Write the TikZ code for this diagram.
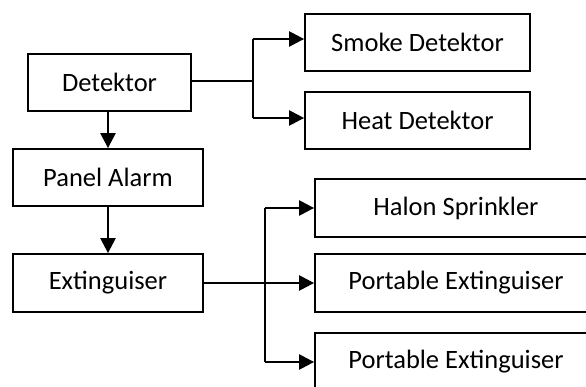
\documentclass[tikz,border=0pt]{standalone}
\usepackage{fontspec}
\setmainfont{Carlito}
\usetikzlibrary{arrows.meta}
\begin{document}
\begin{tikzpicture}[x=1pt,y=-1pt,
  box/.style={draw=black,line width=1.8pt,rectangle,inner sep=0pt,align=center,
    font=\fontsize{26.5}{30}\selectfont},
  conn/.style={line width=2.4pt},
  arr/.style={line width=2.4pt,-{Triangle[length=15pt,width=15pt]}}]
\useasboundingbox (0,0) rectangle (586,387);
\clip (0,0) rectangle (586,387);
\node[box,minimum width=163pt,minimum height=57pt] (det) at (109.5,82.5) {Detektor};
\node[box,minimum width=225pt,minimum height=57pt] (smoke) at (417.5,42.5) {Smoke Detektor};
\node[box,minimum width=225pt,minimum height=57pt] (heat) at (417.5,120.5) {Heat Detektor};
\node[box,minimum width=190pt,minimum height=57pt] (panel) at (108,177.5) {Panel Alarm};
\node[box,minimum width=190pt,minimum height=58pt] (ext) at (108,283) {Extinguiser};
\node[box,minimum width=282pt,minimum height=58pt] (halon) at (456,208) {Halon Sprinkler};
\node[box,minimum width=282pt,minimum height=58pt] (port1) at (456,283) {Portable Extinguiser};
\node[box,minimum width=282pt,minimum height=58pt] (port2) at (456,362) {Portable Extinguiser};
% Detektor branch
\draw[line width=1.6pt] ([yshift=1.5pt]det.east) -- ++(61,0) coordinate (b1);
\draw[arr] ([yshift=3.5pt]smoke.west -| b1) -- ([yshift=3.5pt]smoke.west);
\draw[arr] ([yshift=2.5pt]heat.west -| b1) -- ([yshift=2.5pt]heat.west);
\draw[conn] ([yshift=3.5pt]smoke.west -| b1) -- ([yshift=2.5pt]heat.west -| b1);
% vertical chain
\draw[arr] (det.south -| panel.north) -- (panel.north);
\draw[arr] (panel.south) -- (ext.north);
% Extinguiser branch
\coordinate (b2) at (265,283);
\draw[arr] (ext.east) -- (port1.west);
\draw[conn] (halon.west -| b2) -- (port2.west -| b2);
\draw[arr] (halon.west -| b2) -- (halon.west);
\draw[arr] (port2.west -| b2) -- (port2.west);
\end{tikzpicture}
\end{document}
